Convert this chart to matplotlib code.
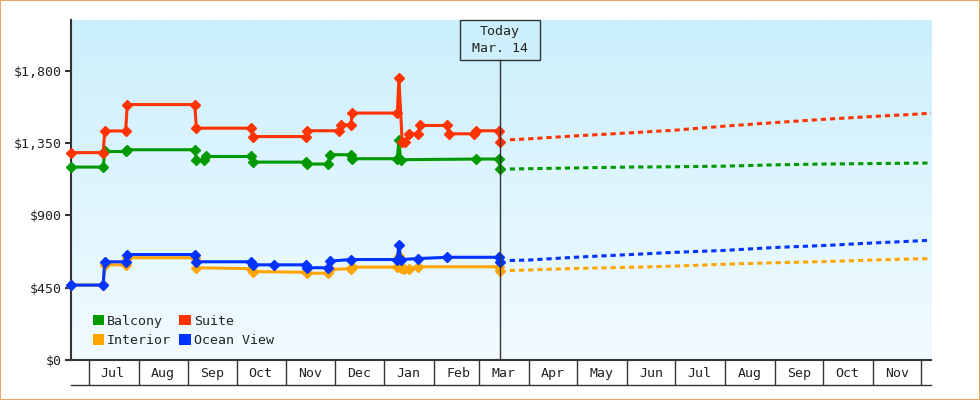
import matplotlib
matplotlib.use("Agg")  # no display
import matplotlib.pyplot as plt
import matplotlib.dates as mdates
from matplotlib.patches import Rectangle, Patch
from matplotlib.lines import Line2D
from matplotlib.colors import LinearSegmentedColormap
from matplotlib.ticker import NullFormatter
import matplotlib.transforms as mtransforms
import numpy as np
import pandas as pd

# ---- price history ----
balcony_dates = ["2018-06-20", "2018-07-10", "2018-07-11", "2018-07-24", "2018-07-25",
                 "2018-09-05", "2018-09-06", "2018-09-11", "2018-09-12", "2018-10-10",
                 "2018-10-11", "2018-11-13", "2018-11-14", "2018-11-27", "2018-11-28",
                 "2018-12-11", "2018-12-12", "2019-01-09", "2019-01-10", "2019-01-11",
                 "2019-02-27", "2019-03-13", "2019-03-14"]
balcony_prices = [1200, 1200, 1297, 1297, 1308, 1308, 1246, 1246, 1266, 1266,
                  1231, 1231, 1219, 1219, 1277, 1277, 1252, 1252, 1370, 1246,
                  1250, 1250, 1188]

suite_dates = ["2018-06-20", "2018-07-10", "2018-07-11", "2018-07-24", "2018-07-25",
               "2018-09-05", "2018-09-06", "2018-10-10", "2018-10-11", "2018-11-13",
               "2018-11-14", "2018-12-04", "2018-12-05", "2018-12-11", "2018-12-12",
               "2019-01-09", "2019-01-10", "2019-01-12", "2019-01-14", "2019-01-16",
               "2019-01-22", "2019-01-23", "2019-02-09", "2019-02-10", "2019-02-26",
               "2019-02-27", "2019-03-13", "2019-03-14"]
suite_prices = [1290, 1290, 1425, 1425, 1589, 1589, 1442, 1442, 1390, 1390,
                1426, 1426, 1463, 1463, 1536, 1536, 1753, 1359, 1359, 1407,
                1407, 1459, 1459, 1407, 1407, 1426, 1426, 1359]

interior_dates = ["2018-06-20", "2018-07-10", "2018-07-11", "2018-07-24", "2018-07-25",
                  "2018-09-05", "2018-09-06", "2018-10-10", "2018-10-11", "2018-11-13",
                  "2018-11-14", "2018-11-27", "2018-11-28", "2018-12-11", "2018-12-12",
                  "2019-01-09", "2019-01-10", "2019-01-11", "2019-01-13", "2019-01-16",
                  "2019-01-22", "2019-03-13", "2019-03-14"]
interior_prices = [466, 466, 594, 590, 636, 636, 574, 568, 550, 546,
                   540, 540, 563, 568, 578, 578, 650, 570, 567, 567,
                   580, 580, 552]

ocean_dates = ["2018-06-20", "2018-07-10", "2018-07-11", "2018-07-24", "2018-07-25",
               "2018-09-05", "2018-09-06", "2018-10-10", "2018-10-11", "2018-10-24",
               "2018-11-13", "2018-11-14", "2018-11-27", "2018-11-28", "2018-12-11",
               "2019-01-09", "2019-01-10", "2019-01-11", "2019-01-22", "2019-02-09",
               "2019-03-13", "2019-03-14"]
ocean_prices = [466, 466, 611, 611, 656, 656, 611, 611, 592, 592,
                592, 574, 574, 615, 625, 625, 718, 625, 631, 639,
                639, 611]

# ---- forecast (dotted part) ----
forecast_dates = ["2019-03-20", "2019-04-01", "2019-05-01", "2019-06-01", "2019-07-01",
                  "2019-08-01", "2019-09-01", "2019-10-01", "2019-11-01", "2019-12-01",
                  "2019-12-07"]
balcony_forecast = [1188, 1190, 1195, 1200, 1202, 1206, 1214, 1219, 1222, 1225, 1225]
suite_forecast = [1370, 1376, 1395, 1412, 1430, 1455, 1477, 1497, 1515, 1531, 1536]
interior_forecast = [557, 560, 570, 576, 584, 596, 605, 612, 622, 630, 631]
ocean_forecast = [619, 622, 640, 655, 670, 682, 700, 712, 728, 742, 745]

y_ticks = [0, 450, 900, 1350, 1800]
y_labels = ["$0", "$450", "$900", "$1,350", "$1,800"]
today = pd.Timestamp("2019-03-14")
x_start, x_end = pd.Timestamp("2018-06-20"), pd.Timestamp("2019-12-07")

colors = {"Balcony": "#009900", "Suite": "#ff3300",
          "Interior": "#ffa500", "Ocean View": "#0033ff"}
dark = "#333333"

plt.rcParams["font.family"] = ["DejaVu Sans Mono"]
plt.rcParams["font.size"] = 9.5
plt.rcParams["text.color"] = "#222222"

fig = plt.figure(figsize=(9.8, 4), dpi=100)
ax = fig.add_axes([71 / 980, 40 / 400, 860 / 980, 340 / 400])

# gradient background
cmap = LinearSegmentedColormap.from_list("bg", ["#f2fbff", "#cbeffc"])
grad = np.linspace(0, 1, 256).reshape(-1, 1)
ax.imshow(grad, extent=[0, 1, 0, 1], transform=ax.transAxes, aspect="auto",
          cmap=cmap, origin="lower", zorder=0)

series = [
    ("Balcony", balcony_dates, balcony_prices, balcony_forecast),
    ("Interior", interior_dates, interior_prices, interior_forecast),
    ("Suite", suite_dates, suite_prices, suite_forecast),
    ("Ocean View", ocean_dates, ocean_prices, ocean_forecast),
]
fdates = pd.to_datetime(forecast_dates)
for name, d, p, fc in series:
    c = colors[name]
    ax.plot(pd.to_datetime(d), p, color=c, lw=2.2, marker="D", ms=5.5,
            mec=c, mfc=c, zorder=3, clip_on=False)
    ax.plot(fdates, fc, color=c, lw=2.2, dashes=(1.7, 1.3),
            dash_capstyle="butt", zorder=3)

ax.set_xlim(x_start, x_end)
ax.set_ylim(0, 2115)

# y axis
ax.set_yticks(y_ticks)
ax.set_yticklabels(y_labels)
ax.tick_params(axis="y", length=4.5, width=1.5, color=dark, pad=2, labelcolor="#222")

# x axis: month cells
ax.xaxis.set_major_locator(mdates.MonthLocator())
ax.xaxis.set_major_formatter(NullFormatter())
ax.xaxis.set_minor_locator(mdates.MonthLocator(bymonthday=16))
ax.xaxis.set_minor_formatter(mdates.DateFormatter("%b"))
ax.tick_params(axis="x", which="major", length=18, width=1, color=dark, direction="out")
ax.tick_params(axis="x", which="minor", length=0, pad=5, labelcolor="#222")
ax.add_line(Line2D([0, 1], [-25 / 340] * 2, transform=ax.transAxes, color=dark,
                   lw=1, clip_on=False))

for s in ["top", "right"]:
    ax.spines[s].set_visible(False)
for s in ["left", "bottom"]:
    ax.spines[s].set_color(dark)
    ax.spines[s].set_linewidth(1.5)

# today marker
box_bottom = 1 - 40 / 340
ax.axvline(today, ymin=0, ymax=box_bottom, color=dark, lw=1, zorder=4)
trans = mtransforms.blended_transform_factory(ax.transData, ax.transAxes)
half = pd.Timedelta(days=25)
ax.add_patch(Rectangle((mdates.date2num(today - half), box_bottom),
                       mdates.date2num(today + half) - mdates.date2num(today - half),
                       1 - box_bottom, transform=trans, fill=False,
                       edgecolor=dark, lw=1, zorder=4, clip_on=False))
ax.text(today, 1 - 20 / 340, "Today\nMar. 14", transform=trans, ha="center",
        va="center", linespacing=1.4, zorder=5)

# legend
handles = [Patch(facecolor=colors[n], edgecolor="none", label=n)
           for n in ["Balcony", "Interior", "Suite", "Ocean View"]]
ax.legend(handles=handles, ncol=2, loc="lower left", frameon=False,
          bbox_to_anchor=(0.0175, 0.018), borderpad=0, handlelength=0.85,
          handleheight=0.85, handletextpad=0.25, columnspacing=0.62,
          labelspacing=0.5)

# outer border
fig.add_artist(Rectangle((0, 0), 1, 1, transform=fig.transFigure, fill=False,
                         edgecolor="#e9a862", lw=1.5))

fig.savefig("out.png", dpi=100)
plt.close(fig)
